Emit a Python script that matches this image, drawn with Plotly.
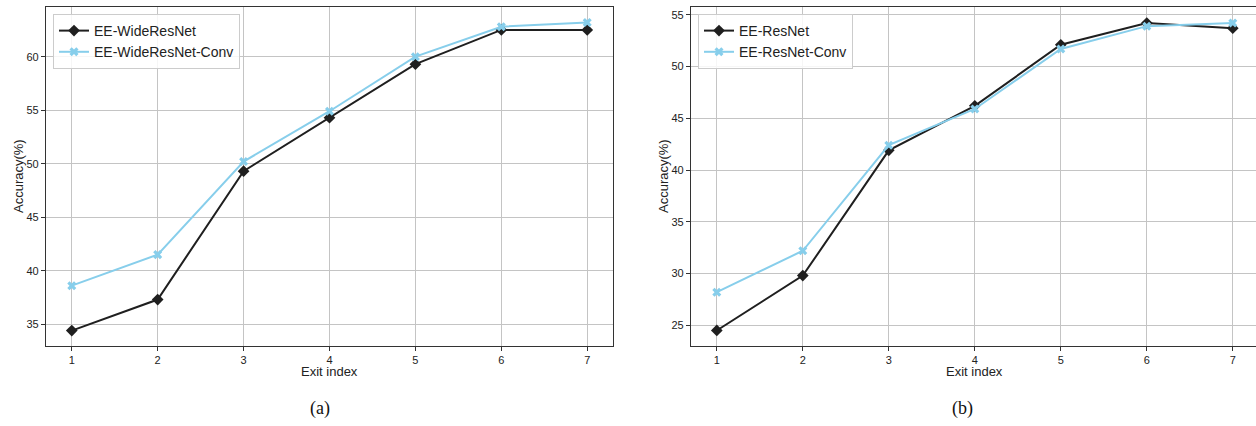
import plotly.graph_objects as go

exits = [1, 2, 3, 4, 5, 6, 7]
x_ticks = [1, 2, 3, 4, 5, 6, 7]

wrn = [34.4, 37.3, 49.3, 54.3, 59.3, 62.5, 62.5]
wrn_conv = [38.6, 41.5, 50.2, 54.9, 60.0, 62.8, 63.2]

rn = [24.5, 29.8, 41.9, 46.2, 52.1, 54.2, 53.7]
rn_conv = [28.2, 32.2, 42.4, 45.9, 51.7, 53.9, 54.2]

left_yticks = [35, 40, 45, 50, 55, 60]
right_yticks = [25, 30, 35, 40, 45, 50, 55]

BLACK = "#1f1f1f"
BLUE = "#87CEEB"
FONT = "Liberation Sans"
SERIF = "Liberation Serif"

fig = go.Figure()

def add_pair(xa, ya, legend, y1, y2, n1, n2):
    fig.add_trace(go.Scatter(x=exits, y=y1, name=n1, mode="lines+markers",
                             line=dict(color=BLACK, width=2),
                             marker=dict(symbol="diamond", size=9, color=BLACK),
                             xaxis=xa, yaxis=ya, legend=legend))
    fig.add_trace(go.Scatter(x=exits, y=y2, name=n2, mode="lines+markers",
                             line=dict(color=BLUE, width=2),
                             marker=dict(symbol="x", size=8, color=BLUE, line=dict(width=0)),
                             xaxis=xa, yaxis=ya, legend=legend))

add_pair("x", "y", "legend", wrn, wrn_conv, "EE-WideResNet", "EE-WideResNet-Conv")
add_pair("x2", "y2", "legend2", rn, rn_conv, "EE-ResNet", "EE-ResNet-Conv")

W, H = 1256, 426
ytop = 1 - 7 / H
ybot = 1 - 346 / H

axis_common = dict(
    showgrid=True, gridcolor="#c4c4c4", gridwidth=1,
    showline=True, linecolor="#333333", linewidth=1.2, mirror=True,
    ticks="outside", ticklen=4, tickcolor="#333333", tickwidth=1,
    tickfont=dict(family=FONT, size=11, color="#222222"),
    zeroline=False,
)

legend_common = dict(
    xanchor="left", yanchor="top",
    bgcolor="rgba(255,255,255,0.85)", bordercolor="#cccccc", borderwidth=1,
    font=dict(family=FONT, size=14, color="#222222"),
    tracegroupgap=0, itemwidth=30,
)

fig.update_layout(
    width=W, height=H,
    margin=dict(l=0, r=0, t=0, b=0),
    paper_bgcolor="white", plot_bgcolor="white",
    font=dict(family=FONT, color="#222222"),
    xaxis=dict(domain=[46 / W, 613 / W], range=[0.7, 7.3], tickvals=x_ticks,
               anchor="y", **axis_common),
    yaxis=dict(domain=[ybot, ytop], range=[32.96, 64.64], tickvals=left_yticks,
               anchor="x", **axis_common),
    xaxis2=dict(domain=[691 / W, 1.0], range=[0.7, 7.27], tickvals=x_ticks,
                anchor="y2", **axis_common),
    yaxis2=dict(domain=[ybot, ytop], range=[23.0, 55.75], tickvals=right_yticks,
                anchor="x2", **axis_common),
    legend=dict(x=53 / W, y=1 - 14 / H, **legend_common),
    legend2=dict(x=698 / W, y=1 - 14 / H, **legend_common),
    showlegend=True,
)

ann = []
for cx in [(46 + 613) / 2, (691 + 1258) / 2]:
    ann.append(dict(text="Exit index", x=cx / W, y=1 - 371 / H, xref="paper", yref="paper",
                    showarrow=False, font=dict(family=FONT, size=13, color="#222222"),
                    xanchor="center", yanchor="middle"))
for cx in [18, 663]:
    ann.append(dict(text="Accuracy(%)", x=cx / W, y=1 - 176 / H, xref="paper", yref="paper",
                    showarrow=False, textangle=-90, font=dict(family=FONT, size=13, color="#222222"),
                    xanchor="center", yanchor="middle"))
for cx, lab in [(320, "(a)"), (962, "(b)")]:
    ann.append(dict(text=lab, x=cx / W, y=1 - 408 / H, xref="paper", yref="paper",
                    showarrow=False, font=dict(family=SERIF, size=18, color="#111111"),
                    xanchor="center", yanchor="middle"))
fig.update_layout(annotations=ann)

fig.write_html("out.html")
